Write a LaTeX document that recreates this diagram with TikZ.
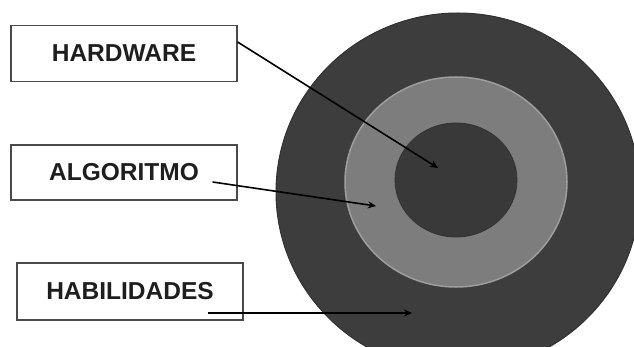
\documentclass[tikz,border=0pt]{standalone}
\usepackage{fontspec}
\setmainfont{Liberation Sans}
\usetikzlibrary{arrows.meta,shapes.geometric}
\definecolor{outerdark}{HTML}{3D3D3D}
\definecolor{ringgray}{HTML}{7D7D7D}
\definecolor{ringedge}{HTML}{9E9E9E}
\definecolor{innerdark}{HTML}{393939}
\definecolor{boxedge}{HTML}{4A4A4A}
\definecolor{txt}{HTML}{1E1E1E}
\tikzset{
  labelbox/.style={draw=boxedge, line width=1.2pt, fill=white, minimum width=226pt,
    minimum height=56pt, inner sep=0pt, font=\fontsize{24.5}{26}\selectfont\bfseries, text=txt},
  conn/.style={draw=black, line width=1.6pt, -{Stealth[length=8pt,width=7pt]}},
}
\begin{document}
\begin{tikzpicture}[x=1pt,y=-1pt]
\useasboundingbox (0,0) rectangle (634,347);
\fill[white] (0,0) rectangle (634,347);
\begin{scope}
\clip (0,0) rectangle (634,347);
\node[ellipse, fill=outerdark, draw=outerdark!80!black, line width=1pt, minimum width=364pt, minimum height=358pt, inner sep=0pt] (outer) at (458,192) {};
\node[ellipse, fill=ringgray, draw=ringedge, line width=1.5pt, minimum width=222pt, minimum height=210pt, inner sep=0pt] (ring) at (456,182) {};
\node[ellipse, fill=innerdark, draw=black!80, line width=0.8pt, minimum width=122pt, minimum height=114pt, inner sep=0pt] (inner) at (456,180) {};
\end{scope}
\coordinate (thw) at (438,168);
\coordinate (talg) at (376,206);
\coordinate (thab) at (412,313);
\node[labelbox] (hw) at (124,53.5) {HARDWARE};
\node[labelbox, minimum height=55pt] (alg) at (124,172.5) {ALGORITMO};
\node[labelbox, minimum height=57pt] (hab) at (130,291.5) {HABILIDADES};
\draw[conn] ([yshift=11.5pt]hw.east) -- (thw);
\draw[conn] ([xshift=-25pt,yshift=-9.5pt]alg.east) -- (talg);
\draw[conn] ([xshift=-36pt,yshift=-21.5pt]hab.east) -- (thab);
\end{tikzpicture}
\end{document}
